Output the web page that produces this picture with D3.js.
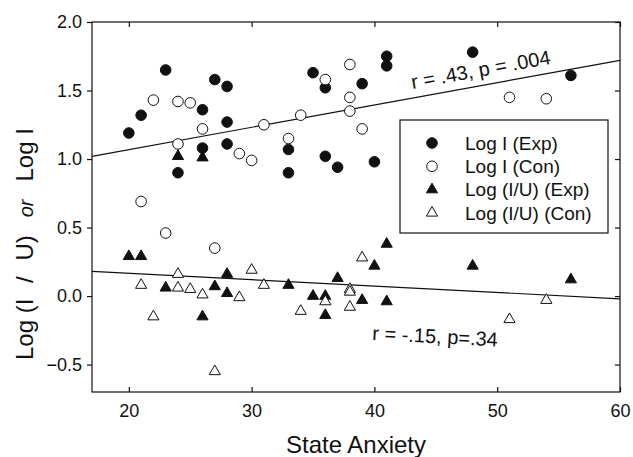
<!DOCTYPE html>
<html>
<head>
<meta charset="utf-8">
<script src="https://cdn.jsdelivr.net/npm/d3@7"></script>
<style>
  body { margin: 0; background: #fff; }
  svg { display: block; font-family: Arial, "Liberation Sans", sans-serif; }
</style>
</head>
<body>
<svg id="chart" width="633" height="457"></svg>
<script>
// State anxiety vs log I / log (I/U)
const logIExp = [
  [20, 1.19], [21, 1.32], [23, 1.65], [24, 0.90], [26, 1.36], [26, 1.08],
  [27, 1.58], [28, 1.53], [28, 1.27], [28, 1.11], [33, 1.07], [33, 0.90],
  [35, 1.63], [36, 1.52], [36, 1.02], [37, 0.94], [39, 1.55], [40, 0.98],
  [41, 1.75], [41, 1.68], [48, 1.78], [56, 1.61]
];
const logICon = [
  [21, 0.69], [22, 1.43], [23, 0.46], [24, 1.42], [24, 1.11], [25, 1.41],
  [26, 1.22], [27, 0.35], [29, 1.04], [30, 0.99], [31, 1.25], [33, 1.15],
  [34, 1.32], [36, 1.58], [38, 1.69], [38, 1.45], [38, 1.35], [39, 1.22],
  [51, 1.45], [54, 1.44]
];
const logIUExp = [
  [20, 0.29], [21, 0.29], [23, 0.06], [24, 1.02], [26, 1.01], [26, -0.15],
  [27, 0.07], [28, 0.16], [28, 0.02], [33, 0.08], [35, 0.00], [36, 0.00],
  [36, -0.14], [37, 0.13], [39, -0.03], [40, 0.22], [41, 0.38], [41, -0.04],
  [48, 0.22], [56, 0.12]
];
const logIUCon = [
  [21, 0.08], [22, -0.15], [24, 0.16], [24, 0.06], [25, 0.05], [26, 0.01],
  [27, -0.55], [29, -0.01], [30, 0.19], [31, 0.08], [34, -0.11], [36, -0.04],
  [38, 0.05], [38, 0.03], [38, -0.08], [39, 0.28], [51, -0.17], [54, -0.03]
];

// regression lines (end points over the x range)
const fitLogI = [[17, 1.02], [60, 1.72]];
const fitLogIU = [[17, 0.18], [60, -0.02]];
const fitLabels = ["r = .43, p = .004", "r = -.15, p=.34"];

const xTicks = [20, 30, 40, 50, 60];
const yTicks = [-0.5, 0.0, 0.5, 1.0, 1.5, 2.0];
const legendLabels = ["Log I (Exp)", "Log I (Con)", "Log (I/U) (Exp)", "Log (I/U) (Con)"];

const svg = d3.select("#chart");
const plot = { left: 92, right: 620, top: 22, bottom: 392 };

const x = d3.scaleLinear().domain([17, 60]).range([plot.left, plot.right]);
const y = d3.scaleLinear().domain([-0.7, 2.0]).range([plot.bottom, plot.top]);

const ink = "#111";

// frame
svg.append("rect")
  .attr("x", plot.left).attr("y", plot.top)
  .attr("width", plot.right - plot.left).attr("height", plot.bottom - plot.top)
  .attr("fill", "none").attr("stroke", ink).attr("stroke-width", 1.2);

// axes
const axisStyle = (g) => {
  g.select(".domain").remove();
  g.selectAll("line").attr("stroke", ink).attr("stroke-width", 1.2);
  g.selectAll("text").attr("fill", ink).style("font-size", "18px");
};

svg.append("g")
  .attr("transform", `translate(0,${plot.bottom})`)
  .call(d3.axisBottom(x).tickValues(xTicks).tickSize(-5).tickPadding(12).tickFormat(d3.format("d")))
  .call(axisStyle);

svg.append("g")
  .attr("transform", `translate(0,${plot.top})`)
  .call(d3.axisTop(x).tickValues(xTicks).tickSize(-5).tickFormat(""))
  .call(axisStyle);

svg.append("g")
  .attr("transform", `translate(${plot.left},0)`)
  .call(d3.axisLeft(y).tickValues(yTicks).tickSize(5).tickPadding(5).tickFormat(d3.format(".1f")))
  .call(axisStyle);

svg.append("g")
  .attr("transform", `translate(${plot.right},0)`)
  .call(d3.axisRight(y).tickValues(yTicks).tickSize(-5).tickFormat(""))
  .call(axisStyle);

// axis titles
svg.append("text")
  .attr("x", 356).attr("y", 453)
  .attr("text-anchor", "middle")
  .attr("fill", ink)
  .style("font-size", "24px")
  .text("State Anxiety");

const yTitle = svg.append("text")
  .attr("transform", "translate(33,360) rotate(-90)")
  .attr("fill", ink)
  .style("font-size", "24px");
yTitle.append("tspan").text("Log ");
yTitle.append("tspan").style("word-spacing", "9px").text("(I / U)");
yTitle.append("tspan").attr("dx", 18)
  .style("font-style", "italic").style("font-size", "20px").text("or");
yTitle.append("tspan").attr("dx", 18).text("Log I");

// regression lines
const line = d3.line().x((d) => x(d[0])).y((d) => y(d[1]));
[fitLogI, fitLogIU].forEach((f) => {
  svg.append("path")
    .attr("d", line(f))
    .attr("fill", "none")
    .attr("stroke", ink)
    .attr("stroke-width", 1.2);
});

// r / p labels following the line slope
function fitLabel(fit, atX, offset, label) {
  const [p0, p1] = fit;
  const yAt = p0[1] + (p1[1] - p0[1]) * (atX - p0[0]) / (p1[0] - p0[0]);
  const ang = Math.atan2(y(p1[1]) - y(p0[1]), x(p1[0]) - x(p0[0])) * 180 / Math.PI;
  svg.append("text")
    .attr("transform", `translate(${x(atX)},${y(yAt) + offset}) rotate(${ang})`)
    .attr("fill", ink)
    .style("font-size", "20px")
    .text(label);
}
fitLabel(fitLogI, 43.1, -9, fitLabels[0]);
fitLabel(fitLogIU, 39.8, 54, fitLabels[1]);

// markers
const tri = d3.symbol().type(d3.symbolTriangle).size(54);
const series = [
  { data: logIExp, shape: "circle", fill: ink },
  { data: logICon, shape: "circle", fill: "#fff" },
  { data: logIUExp, shape: "triangle", fill: ink },
  { data: logIUCon, shape: "triangle", fill: "#fff" }
];

function drawMarker(g, shape, fill, cx, cy) {
  if (shape === "circle") {
    g.append("circle")
      .attr("cx", cx).attr("cy", cy).attr("r", 5.3)
      .attr("fill", fill).attr("stroke", ink).attr("stroke-width", 1);
  } else {
    g.append("path")
      .attr("d", tri())
      .attr("transform", `translate(${cx},${cy})`)
      .attr("fill", fill).attr("stroke", ink).attr("stroke-width", 1);
  }
}

series.forEach((s) => {
  const g = svg.append("g");
  s.data.forEach((d) => drawMarker(g, s.shape, s.fill, x(d[0]), y(d[1])));
});

// legend
const legend = svg.append("g");
legend.append("rect")
  .attr("x", 400).attr("y", 120)
  .attr("width", 208).attr("height", 113)
  .attr("fill", "#fff").attr("stroke", ink).attr("stroke-width", 1.2);

legendLabels.forEach((label, i) => {
  const ly = 143 + i * 23.3;
  drawMarker(legend, series[i].shape, series[i].fill, 432, ly);
  legend.append("text")
    .attr("x", 465).attr("y", ly)
    .attr("dy", "0.36em")
    .attr("fill", ink)
    .style("font-size", "19px")
    .text(label);
});
</script>
</body>
</html>
